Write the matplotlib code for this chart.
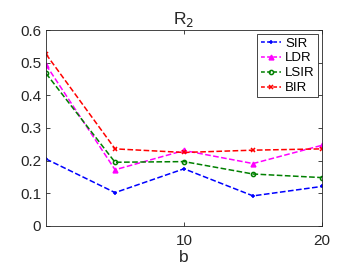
import numpy as np
import matplotlib.pyplot as plt

plt.rcParams['font.family'] = ['Liberation Sans', 'DejaVu Sans']

b = [0, 5, 10, 15, 20]
sir = [0.205, 0.102, 0.175, 0.092, 0.121]
ldr = [0.493, 0.172, 0.231, 0.191, 0.247]
lsir = [0.467, 0.195, 0.197, 0.159, 0.148]
bir = [0.526, 0.236, 0.225, 0.232, 0.236]

fig = plt.figure(figsize=(3.57, 2.68), dpi=100)
ax = fig.add_axes([0.129, 0.157, 0.773, 0.731])

ax.plot(b, sir, '--', color='blue', marker='+', ms=3.5, mew=1.1, lw=1.1, label='SIR')
ax.plot(b, ldr, '--', color='magenta', marker='^', ms=3.5, lw=1.1, label='LDR')
ax.plot(b, lsir, '--', color='green', marker='o', ms=3, mfc='none', mew=1.1, lw=1.1, label='LSIR')
ax.plot(b, bir, '--', color='red', marker='x', ms=3, mew=1.1, lw=1.1, label='BIR')

ax.set_xlim(0, 20)
ax.set_ylim(0, 0.6)
ax.set_xticks([10, 20])
ax.set_yticks([0, 0.1, 0.2, 0.3, 0.4, 0.5, 0.6])
ax.set_yticklabels(['0', '0.1', '0.2', '0.3', '0.4', '0.5', '0.6'])

for s in ax.spines.values():
    s.set_color('#262626')
    s.set_linewidth(0.6)
ax.tick_params(direction='in', length=3, width=0.6, colors='#262626',
               labelsize=11, top=True, right=True)
ax.tick_params(axis='x', pad=6)

ax.set_title('R$_2$', fontsize=12.5, color='#262626', pad=4)
ax.set_xlabel('b', fontsize=12.5, color='#262626', labelpad=1)

leg = ax.legend(loc='upper right', fontsize=9.5, fancybox=False, framealpha=1,
                edgecolor='#262626', borderpad=0.25, labelspacing=0.2,
                handlelength=1.5, handletextpad=0.35, borderaxespad=0.3)
leg.get_frame().set_linewidth(0.6)
for line in leg.get_lines():
    line.set_dashes([2.5, 1.5])

fig.savefig('out.png', dpi=100)
